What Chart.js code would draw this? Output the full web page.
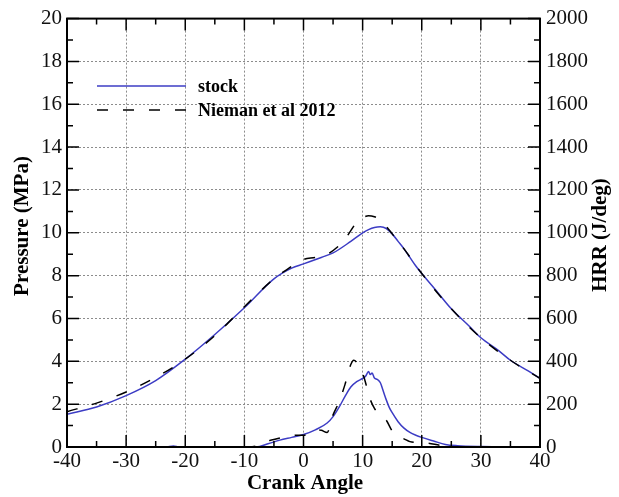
<!DOCTYPE html>
<html>
<head>
<meta charset="utf-8">
<script src="https://cdn.jsdelivr.net/npm/chart.js@4.4.1/dist/chart.umd.min.js"></script>
<style>
    html, body { margin: 0; padding: 0; background: #fff; }
    #wrap { width: 619px; height: 497px; }
</style>
</head>
<body>
<div id="wrap"><canvas id="hrrChart" width="619" height="497"></canvas></div>
<script>
// Pressure traces (MPa, left axis)
const stockPressAngle = [-40, -35, -30, -25, -20, -15, -10, -5, -2, 0, 3, 5, 8, 10, 11, 12, 13, 14, 15, 16, 17, 18, 19, 20, 22, 25, 28, 30, 33, 35, 38, 40];
const stockPress = [1.53, 1.87, 2.4, 3.1, 4.1, 5.25, 6.5, 7.85, 8.35, 8.55, 8.85, 9.06, 9.6, 10.0, 10.15, 10.25, 10.28, 10.2, 9.95, 9.6, 9.25, 8.85, 8.45, 8.1, 7.45, 6.45, 5.65, 5.1, 4.5, 4.05, 3.55, 3.2];

const niemanPressAngle = [-40, -35, -30, -25, -20, -15, -10, -5, -3, 0, 2, 4, 6, 7, 8, 9, 10, 11, 12, 13, 14, 15, 17, 20, 25, 30, 35, 40];
const niemanPress = [1.65, 2.05, 2.57, 3.25, 4.1, 5.2, 6.55, 7.85, 8.25, 8.75, 8.85, 9.0, 9.4, 9.7, 10.1, 10.5, 10.7, 10.8, 10.75, 10.6, 10.3, 9.95, 9.25, 8.1, 6.45, 5.1, 4.05, 3.2];

// Heat release rate (J/deg, right axis)
const stockHrrAngle = [-23, -22, -21, -8, -6, -4, -2, 0, 2, 4, 5, 6, 7, 8, 9, 10, 10.5, 11, 11.3, 11.6, 12, 12.5, 13, 13.5, 14, 14.5, 15, 16, 17, 18, 19, 20, 22, 24, 26, 30, 37];
const stockHrr = [0, 5, 0, 0, 15, 32, 45, 58, 80, 112, 142, 185, 235, 280, 305, 320, 330, 352, 338, 345, 322, 315, 300, 260, 220, 185, 160, 118, 88, 68, 55, 45, 28, 12, 6, 2, 0];

const niemanHrrAngle = [-10, -8, -7, -5, -3, -1, 0, 1, 2, 3, 4, 5, 6, 7, 8, 8.5, 9, 10, 10.5, 11, 12, 13, 14, 15, 16, 17, 18, 20, 21, 23, 25];
const niemanHrr = [0, 5, 20, 35, 48, 55, 55, 62, 80, 78, 68, 150, 210, 290, 385, 405, 395, 345, 300, 245, 180, 150, 125, 75, 50, 38, 25, 20, 18, 8, 0];

// Axis ticks
const xTicks = [-40, -30, -20, -10, 0, 10, 20, 30, 40];
const pressTicks = [0, 2, 4, 6, 8, 10, 12, 14, 16, 18, 20];
const hrrTicks = [0, 200, 400, 600, 800, 1000, 1200, 1400, 1600, 1800, 2000];

const seriesNames = ["stock", "Nieman et al 2012"];

const BLUE = "#3c3cc4";
const DASH = [11, 15];
const SERIF = "'Liberation Serif', 'Times New Roman', serif";

function toPoints(xs, ys) {
    return xs.map((x, i) => ({ x: x, y: ys[i] }));
}

// Frame, inward ticks, titles and legend
const decorPlugin = {
    id: "decor",
    afterDraw(chart) {
        const ctx = chart.ctx;
        const a = chart.chartArea;
        const sx = chart.scales.x;
        const sy = chart.scales.y;
        const sy2 = chart.scales.y2;
        ctx.save();
        ctx.strokeStyle = "#000";

        // ticks
        ctx.lineWidth = 1.5;
        ctx.beginPath();
        for (let v = xTicks[0]; v <= xTicks[xTicks.length - 1]; v += 5) {
            const px = sx.getPixelForValue(v);
            const len = v % 10 === 0 ? 12 : 6;
            ctx.moveTo(px, a.bottom); ctx.lineTo(px, a.bottom - len);
            ctx.moveTo(px, a.top); ctx.lineTo(px, a.top + len);
        }
        for (let v = 0; v <= 20; v += 1) {
            const py = sy.getPixelForValue(v);
            const len = v % 2 === 0 ? 12 : 6;
            ctx.moveTo(a.left, py); ctx.lineTo(a.left + len, py);
        }
        for (let v = 0; v <= 2000; v += 100) {
            const py = sy2.getPixelForValue(v);
            const len = v % 200 === 0 ? 12 : 6;
            ctx.moveTo(a.right, py); ctx.lineTo(a.right - len, py);
        }
        ctx.stroke();

        // frame
        ctx.lineWidth = 2;
        ctx.strokeRect(a.left, a.top, a.right - a.left, a.bottom - a.top);

        // axis titles
        ctx.fillStyle = "#000";
        ctx.font = "bold 21px " + SERIF;
        ctx.textAlign = "center";
        ctx.textBaseline = "middle";
        ctx.fillText("Crank Angle", 305, 484);
        ctx.save();
        ctx.translate(23, 226);
        ctx.rotate(-Math.PI / 2);
        ctx.fillText("Pressure (MPa)", 0, 0);
        ctx.restore();
        ctx.save();
        ctx.translate(601, 235);
        ctx.rotate(-Math.PI / 2);
        ctx.fillText("HRR (J/deg)", 0, 0);
        ctx.restore();

        // legend
        ctx.font = "bold 18px " + SERIF;
        ctx.textAlign = "left";
        const rows = [
            { y: 86, color: BLUE, dash: [] },
            { y: 110, color: "#000", dash: DASH },
        ];
        rows.forEach((r, i) => {
            ctx.beginPath();
            ctx.strokeStyle = r.color;
            ctx.lineWidth = 1.6;
            ctx.setLineDash(r.dash);
            ctx.moveTo(97, r.y);
            ctx.lineTo(186, r.y);
            ctx.stroke();
            ctx.setLineDash([]);
            ctx.fillText(seriesNames[i], 198, r.y + 1);
        });
        ctx.restore();
    },
};

const tickFont = { family: SERIF, size: 21 };
const plainLabel = (v) => String(v);

const ctx = document.getElementById("hrrChart").getContext("2d");
const hrrChart = new Chart(ctx, {
    type: "scatter",
    data: {
        datasets: [
            {
                label: seriesNames[1],
                data: toPoints(niemanPressAngle, niemanPress),
                yAxisID: "y",
                borderColor: "#000",
                borderDash: DASH,
            },
            {
                label: seriesNames[1],
                data: toPoints(niemanHrrAngle, niemanHrr),
                yAxisID: "y2",
                borderColor: "#000",
                borderDash: DASH,
            },
            {
                label: seriesNames[0],
                data: toPoints(stockPressAngle, stockPress),
                yAxisID: "y",
                borderColor: BLUE,
            },
            {
                label: seriesNames[0],
                data: toPoints(stockHrrAngle, stockHrr),
                yAxisID: "y2",
                borderColor: BLUE,
            },
        ],
    },
    options: {
        responsive: false,
        animation: false,
        showLine: true,
        datasets: {
            scatter: {
                pointRadius: 0,
                borderWidth: 1.5,
                cubicInterpolationMode: "monotone",
            },
        },
        layout: { padding: { top: 16, left: 0, right: 0, bottom: 0 } },
        plugins: {
            legend: { display: false },
            tooltip: { enabled: false },
        },
        scales: {
            x: {
                type: "linear",
                min: -40,
                max: 40,
                afterBuildTicks: (s) => { s.ticks = xTicks.map((v) => ({ value: v })); },
                ticks: { font: tickFont, color: "#111", padding: 2, maxRotation: 0, autoSkip: false, callback: plainLabel },
                grid: { color: "#8c8c8c", lineWidth: 1, drawTicks: false },
                border: { display: false, dash: [2, 2] },
                afterFit: (s) => { s.height = 50; },
            },
            y: {
                position: "left",
                min: 0,
                max: 20,
                afterBuildTicks: (s) => { s.ticks = pressTicks.map((v) => ({ value: v })); },
                ticks: { font: tickFont, color: "#111", padding: 5, autoSkip: false, callback: plainLabel },
                grid: { color: "#8c8c8c", lineWidth: 1, drawTicks: false },
                border: { display: false, dash: [2, 2] },
                afterFit: (s) => { s.width = 67; },
            },
            y2: {
                position: "right",
                min: 0,
                max: 2000,
                afterBuildTicks: (s) => { s.ticks = hrrTicks.map((v) => ({ value: v })); },
                ticks: { font: tickFont, color: "#111", padding: 6, autoSkip: false, callback: plainLabel },
                grid: { drawOnChartArea: false, drawTicks: false },
                border: { display: false },
                afterFit: (s) => { s.width = 79; },
            },
        },
    },
    plugins: [decorPlugin],
});
</script>
</body>
</html>
